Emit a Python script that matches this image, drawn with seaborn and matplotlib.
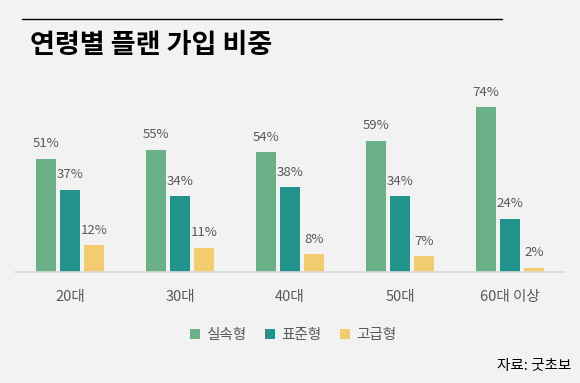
import numpy as np
import pandas as pd
import seaborn as sns
import matplotlib.pyplot as plt
from matplotlib.lines import Line2D
from matplotlib.patches import Patch

AGES = ["20대", "30대", "40대", "50대", "60대 이상"]
PLANS = ["실속형", "표준형", "고급형"]
BUDGET = [51, 55, 54, 59, 74]
STANDARD = [37, 34, 38, 34, 24]
PREMIUM = [12, 11, 8, 7, 2]
COLORS = ["#6ab187", "#20948b", "#f4cc70"]

sns.set_theme(style="white")
plt.rcParams["font.family"] = ["Noto Sans CJK KR", "DejaVu Sans"]

df = pd.DataFrame({
    "age": AGES * 3,
    "plan": [PLANS[0]] * 5 + [PLANS[1]] * 5 + [PLANS[2]] * 5,
    "value": BUDGET + STANDARD + PREMIUM,
})

bg = "#f2f2f2"
fig = plt.figure(figsize=(5.8, 3.83), dpi=100, facecolor=bg)
ax = fig.add_axes([15 / 580, 1 - 272 / 383, 550 / 580, 178 / 383])
ax.set_facecolor(bg)

sns.barplot(data=df, x="age", y="value", hue="plan", hue_order=PLANS,
            order=AGES, palette=COLORS, width=0.655, gap=0.2,
            legend=False, ax=ax, saturation=1, linewidth=0)

for cont in ax.containers:
    for bar in cont:
        h = bar.get_height()
        ax.annotate(f"{h:.0f}%", (bar.get_x() + bar.get_width() / 2, h),
                    xytext=(0, 6), textcoords="offset points",
                    ha="center", va="bottom", fontsize=9.5, color="#595959")

ax.set_xlim(-0.5, 4.5)
ax.set_ylim(0, 80)
ax.set_xlabel("")
ax.set_ylabel("")
ax.set_yticks([])
for s in ["top", "right", "left"]:
    ax.spines[s].set_visible(False)
ax.spines["bottom"].set_color("#d9d9d9")
ax.spines["bottom"].set_linewidth(1.2)
ax.tick_params(axis="x", length=0, pad=13, labelsize=10.5, labelcolor="#595959")

# title and rule
fig.add_artist(Line2D([22 / 580, 502 / 580], [1 - 19 / 383] * 2,
                      color="black", lw=1, transform=fig.transFigure))
fig.text(30 / 580, 1 - 45 / 383, "연령별 플랜 가입 비중", fontsize=19.5,
         fontweight="bold", ha="left", va="center", color="black")

handles = [Patch(facecolor=c, edgecolor="none") for c in COLORS]
fig.legend(handles, PLANS, loc="center", bbox_to_anchor=(293 / 580, 1 - 335 / 383),
           ncol=3, frameon=False, fontsize=10.5, handlelength=0.7, handleheight=0.7,
           handletextpad=0.4, columnspacing=1.3, labelcolor="#595959")

fig.text(571 / 580, 1 - 366 / 383, "자료: 굿초보", fontsize=10.5,
         ha="right", va="center", color="black")

fig.savefig("out.png", dpi=100, facecolor=bg)
